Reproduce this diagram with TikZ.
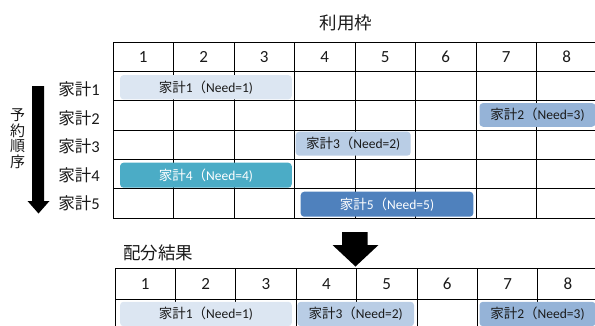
\documentclass[tikz,border=0pt]{standalone}
\usepackage{fontspec}
\setmainfont{Carlito}
\newfontfamily\jp{Noto Sans CJK JP}
\definecolor{barA}{HTML}{DCE6F2}
\definecolor{barB}{HTML}{95B3D7}
\definecolor{barC}{HTML}{B9CDE5}
\definecolor{barD}{HTML}{4BACC6}
\definecolor{barE}{HTML}{4F81BD}
\definecolor{txt}{HTML}{1A1A1A}
\begin{document}
\begin{tikzpicture}[x=1pt,y=-1pt,
  gridline/.style={line width=1pt,black},
  hdr/.style={font=\fontsize{17}{17}\selectfont,text=txt,inner sep=0pt},
  rowlab/.style={font=\fontsize{16.5}{16.5}\selectfont,text=txt,inner sep=0pt},
  title/.style={font=\jp\fontsize{17.5}{17.5}\selectfont,text=txt,inner sep=0pt},
  bar/.style={rounded corners=3.5pt,inner sep=0pt,font=\fontsize{13.5}{13.5}\selectfont,text=txt},
  darkbar/.style={bar,text=white},
  blockarrow/.style={fill=black,draw=none}]
\useasboundingbox (0,0) rectangle (595,325);
\clip (0,0) rectangle (595,325);
% ---------- top table ----------
\foreach \i in {0,...,8} {
  \draw[gridline] ({113+60.5*\i},42) -- ({113+60.5*\i},218);
}
\foreach \y in {42,71.5,100.8,130.1,159.4,188.7,218} {
  \draw[gridline] (113,\y) -- (600,\y);
}
\foreach \i in {1,...,8} {
  \node[hdr] (th\i) at ({113+60.5*\i-30.25},57) {\i};
}
\node[title] (ttop) at (346,23) {利用枠};
% row labels
\node[rowlab] (r1) at (79,89.5) {{\jp 家計}1};
\node[rowlab] (r2) at (79,118) {{\jp 家計}2};
\node[rowlab] (r3) at (79,146.5) {{\jp 家計}3};
\node[rowlab] (r4) at (79,175) {{\jp 家計}4};
\node[rowlab] (r5) at (79,203) {{\jp 家計}5};
% bars top
\node[bar,fill=barA,minimum width=171.7pt,minimum height=24.3pt] (b1) at (205.9,87.2) {{\jp 家計}1{\jp （}Need=1)};
\node[bar,fill=barB,minimum width=116pt,minimum height=23.7pt] (b2) at (537.5,114.9) {{\jp 家計}2{\jp （}Need=3)};
\node[bar,fill=barC,minimum width=115pt,minimum height=24pt] (b3) at (353.2,143.7) {{\jp 家計}3{\jp （}Need=2)};
\node[darkbar,fill=barD,minimum width=171.7pt,minimum height=25pt] (b4) at (205.9,175.2) {{\jp 家計}4{\jp （}Need=4)};
\node[darkbar,fill=barE,minimum width=172.6pt,minimum height=25pt] (b5) at (387,204.2) {{\jp 家計}5{\jp （}Need=5)};
% reservation order arrow
\fill[blockarrow] (32,86) -- (44,86) -- (44,201) -- (49.5,201) -- (38.5,213.5) -- (27.5,201) -- (32,201) -- cycle;
\node[font=\jp\fontsize{15}{15.5}\selectfont,text=txt,align=center,inner sep=0pt] (order) at (17.5,138.5) {予\\約\\順\\序};
% ---------- down arrow ----------
\fill[blockarrow] (342,232) -- (367.5,232) -- (367.5,245) -- (378.5,245) -- (355.5,266.5) -- (332.5,245) -- (342,245) -- cycle;
% ---------- bottom table ----------
\node[title] (tbot) at (158,253) {配分結果};
\foreach \i in {0,...,8} {
  \draw[gridline] ({115+60.4*\i},268.3) -- ({115+60.4*\i},330);
}
\foreach \y in {268.3,299,329.5} {
  \draw[gridline] (115,\y) -- (600,\y);
}
\foreach \i in {1,...,8} {
  \node[hdr] (bh\i) at ({115+60.4*\i-30.2},284) {\i};
}
\node[bar,fill=barA,minimum width=171.7pt,minimum height=24.5pt] (c1) at (205.9,314) {{\jp 家計}1{\jp （}Need=1)};
\node[bar,fill=barC,minimum width=116.7pt,minimum height=24.5pt] (c3) at (355.7,314) {{\jp 家計}3{\jp （}Need=2)};
\node[bar,fill=barB,minimum width=116pt,minimum height=24.5pt] (c2) at (537.5,314) {{\jp 家計}2{\jp （}Need=3)};
\end{tikzpicture}
\end{document}
